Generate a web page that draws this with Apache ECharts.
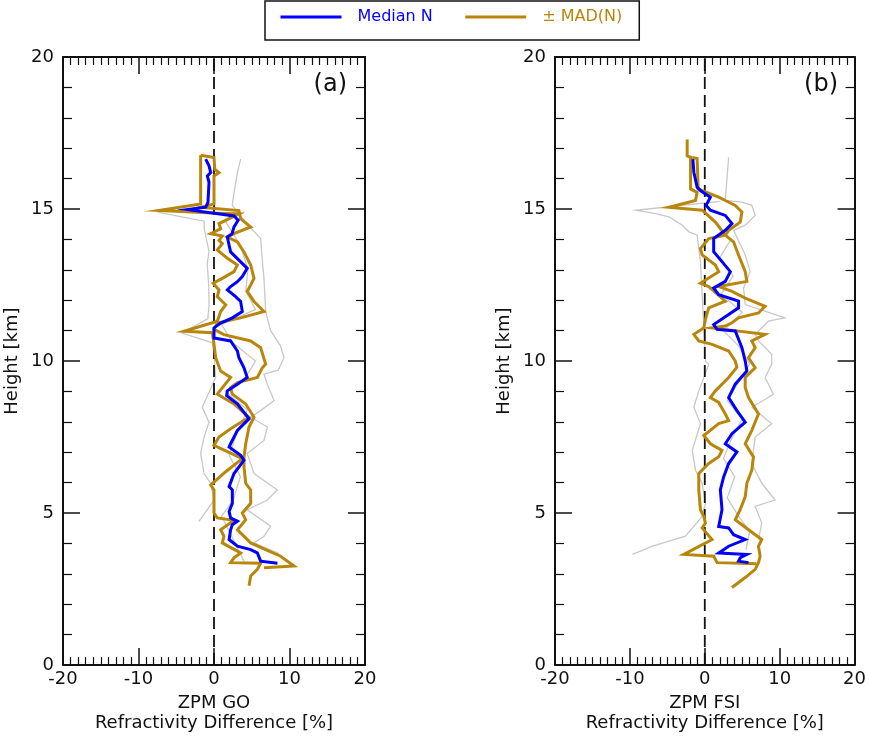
<!DOCTYPE html>
<html><head><meta charset="utf-8">
<script src="https://cdn.jsdelivr.net/npm/echarts/dist/echarts.min.js"></script>
<style>html,body{margin:0;padding:0;background:#fff}#c{width:869px;height:738px}</style>
</head><body><div id="c"></div>
<script>
// ---- data: [difference %, height km] ----
const xTicks = [-20, -10, 0, 10, 20];
const yTicks = [0, 5, 10, 15, 20];
const zeroLine = [[0, 0], [0, 20]];

const medianA = [[-1.1,16.64],[-0.66,16.42],[-0.44,16.2],[-0.88,16.09],[-0.66,15.88],[-0.8,15.22],[-1.1,15.06],[-3.5,14.98],[2.65,14.77],[3.2,14.63],[2.65,14.41],[2.4,14.19],[1.77,14.08],[2.0,13.81],[2.2,13.59],[3.3,13.32],[4.4,13.05],[3.75,12.78],[3.1,12.61],[2.2,12.45],[1.77,12.34],[2.87,12.12],[3.53,11.96],[3.75,11.63],[2.43,11.42],[0.88,11.25],[0,11.09],[0,10.76],[2.2,10.66],[3.1,10.33],[3.3,10.11],[3.97,9.78],[4.4,9.46],[3.1,9.24],[1.77,9.02],[1.68,8.86],[3.1,8.59],[4.64,8.1],[3.1,7.72],[2.2,7.28],[2.0,7.17],[3.53,6.9],[3.97,6.74],[2.65,6.3],[2.0,5.87],[2.43,5.76],[2.43,5.32],[2.0,5.05],[2.2,4.84],[3.1,4.73],[2.43,4.62],[2.2,4.45],[2.0,4.13],[1.77,4.07],[3.1,3.91],[4.86,3.8],[5.74,3.69],[6.18,3.42],[8.4,3.35]];
const loA = [[-1.77,16.77],[-1.77,15.17],[-7.3,14.95],[0.44,14.86],[3.3,14.84],[0.66,14.52],[0.88,14.35],[-0.44,14.19],[1.1,14.11],[0.66,13.97],[1.1,13.86],[0.44,13.65],[1.77,13.38],[3.1,13.16],[2.65,12.94],[1.1,12.72],[-0.1,12.56],[0.66,12.34],[0.44,12.12],[1.55,11.85],[0.88,11.63],[0.44,11.31],[-3.97,10.98],[-0.22,10.93],[0,10.55],[0.22,10.11],[0.88,9.67],[2.2,9.46],[0.44,8.91],[2.65,8.59],[4.64,8.15],[2.2,7.77],[0.66,7.5],[0,7.23],[3.75,6.79],[1.55,6.36],[-0.44,5.92],[0,5.76],[0,5.0],[0.44,4.84],[2.65,4.76],[0.88,4.45],[1.32,4.24],[1.1,4.02],[3.53,3.69],[2.65,3.53],[2.2,3.37],[6.18,3.35],[5.74,3.15],[4.86,2.93],[4.64,2.61]];
const hiA = [[-1.77,16.77],[0,16.69],[0.1,16.31],[0.66,16.2],[0,16.09],[0,15.17],[-1.77,15.06],[3.3,14.95],[3.53,14.68],[4.86,14.41],[2.65,14.19],[1.77,14.08],[3.1,13.92],[3.97,13.59],[4.86,13.16],[5.3,12.72],[4.86,12.5],[4.4,12.29],[5.3,11.96],[6.62,11.63],[3.53,11.42],[0.44,11.25],[0,11.04],[1.32,10.87],[4.86,10.66],[6.18,10.44],[6.84,9.9],[6.4,9.78],[5.74,9.46],[3.1,9.29],[2.2,9.13],[2.43,8.91],[4.2,8.59],[5.3,8.15],[4.64,7.83],[4.2,7.28],[3.97,6.85],[3.97,6.52],[4.2,5.98],[4.86,5.76],[4.86,5.32],[3.75,5.0],[4.2,4.78],[3.1,4.45],[4.86,4.02],[6.84,3.8],[8.83,3.58],[10.6,3.26],[6.62,3.2]];
const grayA1 = [[3.53,16.64],[3.1,16.2],[2.5,15.3],[2.43,15.12],[3.3,14.85],[4.4,14.5],[6.18,14.03],[6.4,13.3],[6.62,12.72],[6.84,11.63],[7.5,11.0],[8.8,10.5],[9.27,10.11],[8.5,9.7],[6.62,9.57],[7.06,9.24],[7.95,8.7],[6.18,8.37],[4.86,8.15],[7.06,7.83],[6.62,7.39],[4.4,6.96],[5.3,6.3],[8.4,5.76],[7.06,5.43],[4.4,5.11],[7.5,4.57],[6.62,4.24],[5.3,4.02],[8.4,3.69],[9.7,3.37]];
const grayA2 = [[-7.5,14.9],[-1.3,14.6],[-1.3,14.35],[-0.66,13.6],[-0.9,13.2],[-0.7,12.5],[-0.66,11.85],[-0.8,11.4],[-4.2,10.92],[-0.22,10.6],[0,10.2],[0.22,9.46],[-1.55,8.48],[-0.66,7.99],[-1.32,7.5],[-1.77,6.96],[-1.32,6.3],[-0.44,5.98],[0,5.43],[-1.99,4.73]];
const grayA3 = [[1.5,14.6],[3.5,13.8],[4.5,13.0],[4.2,12.3],[5.5,11.7],[1.0,11.2],[2.5,10.6],[5.5,10.0],[4.0,9.4],[1.5,9.0],[4.4,8.4],[3.0,7.6],[2.0,6.9],[3.5,6.2],[2.5,5.4],[1.0,4.9],[2.0,4.4],[3.0,3.9],[4.0,3.4]];

const medianB = [[-1.59,16.64],[-1.46,16.21],[-1.02,15.72],[-0.58,15.61],[0.75,15.39],[0.18,15.12],[0.75,14.96],[2.74,14.79],[3.63,14.52],[2.74,14.3],[1.19,14.03],[1.19,13.6],[2.3,13.27],[3.41,12.94],[2.74,12.62],[1.19,12.4],[1.86,12.18],[4.51,11.97],[4.51,11.75],[3.19,11.53],[1.19,11.2],[1.64,11.04],[4.07,10.99],[4.96,10.44],[5.4,10.0],[5.62,9.67],[4.07,9.24],[3.19,8.8],[4.29,8.37],[5.4,7.99],[3.63,7.61],[2.74,7.28],[4.29,7.01],[3.19,6.63],[2.52,6.19],[2.08,5.76],[2.3,5.11],[1.86,4.56],[3.19,4.51],[3.85,4.29],[5.4,4.13],[3.19,3.91],[1.86,3.69],[5.62,3.64],[4.73,3.53],[4.51,3.42],[5.84,3.37]];
const loB = [[-2.35,17.29],[-2.35,16.75],[-1.9,16.7],[-1.9,15.66],[-1.02,15.55],[-1.24,15.28],[-4.78,15.06],[-2.57,15.01],[-0.35,14.96],[1.42,14.57],[2.74,14.14],[0.53,14.03],[-0.58,13.7],[-0.35,13.49],[1.42,13.16],[1.86,12.94],[-0.58,12.56],[0.53,12.45],[2.74,11.97],[0.53,11.75],[0.09,11.37],[-0.13,11.09],[-1.46,10.88],[-0.8,10.66],[0.97,10.55],[3.19,10.33],[4.07,10.0],[4.29,9.8],[3.19,9.46],[1.42,9.02],[0.75,8.8],[1.86,8.64],[2.74,8.26],[3.19,8.04],[1.86,7.94],[-0.13,7.55],[0.75,7.28],[2.3,7.06],[1.86,6.85],[0.53,6.63],[-0.8,6.3],[-0.8,5.76],[-0.58,5.11],[-0.13,4.89],[0.09,4.67],[-0.35,4.51],[0.97,4.13],[-2.79,3.64],[1.2,3.58],[1.64,3.37],[6.9,3.33]];
const hiB = [[-1.68,16.7],[-1.02,16.66],[-0.88,15.66],[0.75,15.5],[1.86,15.39],[2.74,15.28],[4.07,15.12],[4.96,14.9],[4.73,14.57],[3.19,14.3],[2.74,14.14],[3.85,13.92],[4.51,13.49],[5.4,12.94],[5.62,12.62],[1.86,12.45],[3.63,12.29],[5.4,12.07],[8.05,11.8],[7.17,11.58],[4.51,11.42],[3.63,11.26],[2.74,11.15],[0.97,11.09],[8.05,10.88],[6.28,10.66],[6.73,10.44],[5.84,10.11],[6.73,9.78],[5.4,9.46],[5.4,9.13],[5.84,8.8],[7.17,8.26],[6.28,7.72],[5.4,7.28],[6.5,6.85],[6.28,6.41],[5.62,5.98],[5.4,5.54],[4.73,5.11],[4.07,4.78],[5.84,4.45],[7.61,4.13],[7.17,3.91],[7.39,3.58],[7.17,3.37],[6.73,3.15],[5.4,2.88],[3.63,2.55]];
const grayB1 = [[3.19,16.7],[2.96,15.99],[2.74,15.28],[4.96,15.23],[6.28,15.12],[6.73,14.79],[5.4,14.47],[3.85,14.3],[5.4,13.49],[6.06,12.94],[5.18,12.4],[5.4,11.86],[10.7,11.42],[8.5,11.31],[6.73,10.88],[7.17,10.66],[8.94,10.22],[8.94,9.89],[8.05,9.46],[9.16,8.91],[6.28,8.48],[8.94,7.94],[6.73,7.5],[6.28,6.63],[7.61,5.98],[9.38,5.43],[6.73,5.22],[7.61,4.67],[7.17,4.13]];
const grayB2 = [[2.0,15.25],[-9.2,14.96],[-6.55,14.85],[-4.78,14.74],[-3.0,14.47],[-2.12,14.25],[-1.02,14.14],[-0.58,13.27],[-0.35,12.18],[-0.13,11.09],[0.09,10.0],[0.53,9.89],[-0.8,9.02],[-1.46,8.48],[-0.58,7.94],[-1.68,7.06],[-1.24,6.41],[-0.35,5.98],[0.09,5.32],[-0.35,4.89],[-2.57,4.24],[-6.99,3.91],[-9.65,3.64]];
const grayB3 = [[3.5,14.0],[2.0,13.4],[3.8,12.8],[2.2,12.2],[5.0,11.6],[2.5,11.0],[4.5,10.5],[6.0,9.9],[4.5,9.3],[3.0,8.7],[5.0,8.1],[3.5,7.4],[2.5,6.8],[4.0,6.2],[3.0,5.5],[4.5,4.9],[6.0,4.4],[5.5,3.8]];

const panelLabels = ['(a)', '(b)'];
const xNames = ['ZPM GO\nRefractivity Difference [%]', 'ZPM FSI\nRefractivity Difference [%]'];
const yName = 'Height [km]';
const legendNames = ['Median N', '\u00b1 MAD(N)'];

// ---- styles ----
const INK = '#111';
const BLUE = '#0000ff';
const GOLD = '#b8860b';
const GRAY = '#c8c8c8';
const FONT = 'DejaVu Sans';

function xAx(g, pos, labels, name) {
  return {
    type: 'value', gridIndex: g, position: pos,
    min: xTicks[0], max: xTicks[xTicks.length - 1], interval: xTicks[1] - xTicks[0],
    axisLine: { show: true, onZero: false, lineStyle: { color: INK, width: 2 } },
    axisTick: { show: true, inside: true, length: 17, lineStyle: { color: INK, width: 1.5 } },
    minorTick: { show: true, splitNumber: 10, length: 8, lineStyle: { color: INK, width: 1.2 } },
    splitLine: { show: false }, minorSplitLine: { show: false },
    axisLabel: { show: labels, fontSize: 18, color: INK, margin: 5, fontFamily: FONT },
    name: name || '', nameLocation: 'middle', nameGap: 26,
    nameTextStyle: { fontSize: 18, lineHeight: 20, color: INK, fontFamily: FONT }
  };
}
function yAx(g, pos, labels, name) {
  return {
    type: 'value', gridIndex: g, position: pos,
    min: yTicks[0], max: yTicks[yTicks.length - 1], interval: yTicks[1] - yTicks[0],
    axisLine: { show: true, onZero: false, lineStyle: { color: INK, width: 2 } },
    axisTick: { show: true, inside: true, length: 17, lineStyle: { color: INK, width: 1.5 } },
    minorTick: { show: true, splitNumber: 5, length: 9, lineStyle: { color: INK, width: 1.2 } },
    splitLine: { show: false }, minorSplitLine: { show: false },
    axisLabel: { show: labels, fontSize: 18, color: INK, margin: 9, fontFamily: FONT },
    name: name || '', nameLocation: 'middle', nameGap: 42, nameRotate: 90,
    nameTextStyle: { fontSize: 18, color: INK, fontFamily: FONT }
  };
}
function ln(name, data, p, color, width, z, type) {
  return {
    type: 'line', name: name, data: data, xAxisIndex: p * 2, yAxisIndex: p * 2,
    symbol: 'none', showSymbol: false, silent: true, animation: false, z: z,
    lineStyle: { color: color, width: width, type: type || 'solid', join: 'miter' },
    itemStyle: { color: color }
  };
}

const series = [];
[[medianA, loA, hiA, [grayA1, grayA2, grayA3]], [medianB, loB, hiB, [grayB1, grayB2, grayB3]]].forEach((d, p) => {
  d[3].forEach((g, i) => series.push(ln('gray' + p + i, g, p, GRAY, 1.3, 2)));
  series.push(ln('zero' + p, zeroLine, p, INK, 1.8, 3, [12, 6]));
  series.push(ln(legendNames[1], d[1], p, GOLD, 3, 4));
  series.push(ln(legendNames[1], d[2], p, GOLD, 3, 4));
  series.push(ln(legendNames[0], d[0], p, BLUE, 3, 5));
});

const chart = echarts.init(document.getElementById('c'), null, { renderer: 'canvas' });
chart.setOption({
  animation: false,
  textStyle: { fontFamily: FONT },
  grid: [
    { left: 63, top: 57, width: 302, height: 613, containLabel: false },
    { left: 555, top: 57, width: 301, height: 613, containLabel: false }
  ],
  xAxis: [xAx(0, 'bottom', true, xNames[0]), xAx(0, 'top', false), xAx(1, 'bottom', true, xNames[1]), xAx(1, 'top', false)],
  yAxis: [yAx(0, 'left', true, yName), yAx(0, 'right', false), yAx(1, 'left', true, yName), yAx(1, 'right', false)],
  legend: {
    data: [
      { name: legendNames[0], textStyle: { color: BLUE } },
      { name: legendNames[1], textStyle: { color: GOLD } }
    ],
    left: 265, top: 1, orient: 'horizontal',
    padding: [8, 17, 15, 14], itemWidth: 61, itemHeight: 14, itemGap: 31,
    borderColor: INK, borderWidth: 1.5, borderRadius: 0,
    selectedMode: false,
    itemStyle: { opacity: 0 },
    lineStyle: { width: 3 },
    textStyle: { fontSize: 16, fontFamily: FONT, padding: [0, 0, 0, 11] }
  },
  graphic: [
    { type: 'text', right: 869 - 347, top: 73, style: { text: panelLabels[0], fontSize: 24, fill: INK, fontFamily: FONT } },
    { type: 'text', right: 869 - 838, top: 73, style: { text: panelLabels[1], fontSize: 24, fill: INK, fontFamily: FONT } }
  ],
  series: series
});
</script></body></html>
